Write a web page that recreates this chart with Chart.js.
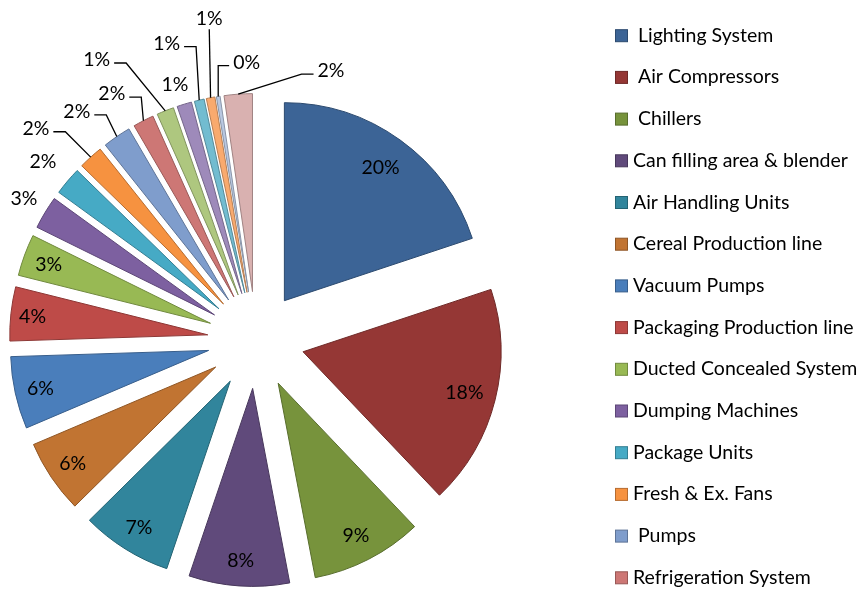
<!DOCTYPE html>
<html><head><meta charset="utf-8">
<script src="https://cdn.jsdelivr.net/npm/chart.js@4"></script>
<style>html,body{margin:0;padding:0;background:#fff;overflow:hidden}canvas{display:block}</style>
</head><body>
<canvas id="c" width="857" height="590"></canvas>
<script>
// ---- data ----
const categories = [" Lighting System", " Air Compressors", " Chillers", "Can filling area & blender",
  "Air Handling Units", "Cereal Production line", "Vacuum Pumps", "Packaging Production line",
  "Ducted Concealed System", "Dumping Machines", "Package Units", "Fresh & Ex. Fans", " Pumps",
  "Refrigeration System", "Item 15", "Item 16", "Item 17", "Item 18", "Item 19", "Item 20"];
const shares = [19.9, 18.0, 9.1, 8.2, 7.4, 6.0, 5.9, 4.4, 3.4, 2.7, 2.3, 2.0, 2.3, 1.7, 1.4, 1.2, 0.8, 0.7, 0.3, 2.3];
const legendShown = 14;

// ---- styles ----
const fillColors = ['#3C6496','#953735','#77933C','#604A7B','#31859C','#C17432','#4A7EBB','#BE4B48','#98B954','#7D60A0',
  '#46AAC5','#F69240','#7F9DCC','#CD7775','#AEC77F','#9E8ABA','#72BCD0','#F9AA6E','#B9C8E1','#D9B1B0'];
const edgeColors = ['#2C4A6F','#6E2927','#586D2D','#47375B','#246373','#8F5625','#385E8B','#8D3836','#718A3F','#5D4777',
  '#347E92','#B66C30','#5E7497','#985856','#81935E','#75668A','#558B9A','#B87E52','#8994A7','#A08383'];
// inside labels: fraction of radius along bisector; outside labels: nudge from outer arc midpoint
const labelInside = [0.83,0.84,0.86,0.87,0.87,0.87,0.87,0.89,0.87,null,null,null,null,null,null,null,null,null,null,null];
const labelNudge = [null,null,null,null,null,null,null,null,null,
  [-21,-14.5],[-24.7,-20.6],[-54.8,-29.4],[-40,-25.6],[-31.6,-27.6],[-68.6,-51.8],[-9.3,-20.1],[-32.6,-57.5],[-1.3,-79.4],[28.4,-34.7],[92.8,-24.1]];
const leaderLine = [false,false,false,false,false,false,false,false,false,false,false,true,true,true,true,false,true,true,true,true];

const EXPLODE = 48.5;
const FONT_FAMILY = 'Lato, "Open Sans", sans-serif';
let FS = 18;

function fitFont(ctx) {
  ctx.save();
  ctx.font = '18px ' + FONT_FAMILY;
  const w = ctx.measureText('Can filling area & blender').width;
  ctx.restore();
  FS = Math.max(15, Math.min(19.5, 18 * 217 / w));
}

const explodePlugin = {
  id: 'explode',
  afterDatasetsUpdate(chart) {
    chart.getDatasetMeta(0).data.forEach(arc => {
      const mid = (arc.startAngle + arc.endAngle) / 2;
      arc.x += Math.cos(mid) * EXPLODE;
      arc.y += Math.sin(mid) * EXPLODE;
    });
  }
};

const labelPlugin = {
  id: 'pctLabels',
  afterDatasetsDraw(chart) {
    const ctx = chart.ctx;
    fitFont(ctx);
    const capH = FS * 0.72;
    const meta = chart.getDatasetMeta(0);
    const total = shares.reduce((a, b) => a + b, 0);
    ctx.save();
    ctx.font = FS + 'px ' + FONT_FAMILY;
    ctx.fillStyle = '#000';
    ctx.strokeStyle = '#000';
    ctx.lineWidth = 1.3;
    ctx.textAlign = 'center';
    ctx.textBaseline = 'alphabetic';
    meta.data.forEach((arc, i) => {
      const mid = (arc.startAngle + arc.endAngle) / 2;
      const ux = Math.cos(mid), uy = Math.sin(mid);
      const r = arc.outerRadius;
      const txt = Math.round(shares[i] / total * 100) + '%';
      let lx, ly;
      if (labelInside[i] != null) {
        lx = arc.x + ux * r * labelInside[i];
        ly = arc.y + uy * r * labelInside[i];
      } else {
        const px = arc.x + ux * r, py = arc.y + uy * r;
        lx = px + labelNudge[i][0];
        ly = py + labelNudge[i][1];
        if (leaderLine[i]) {
          const w = ctx.measureText(txt).width;
          ctx.beginPath();
          if (Math.abs(px - lx) < w / 2) {
            ctx.moveTo(lx, ly + capH / 2 + 4);
            ctx.lineTo(px, py);
          } else {
            const side = px > lx ? 1 : -1;
            const sx = lx + side * (w / 2 + 4), sy = ly + 4;
            const hx = sx + side * Math.min(12, Math.abs(px - sx));
            ctx.moveTo(sx, sy);
            ctx.lineTo(hx, sy);
            ctx.lineTo(px, py);
          }
          ctx.stroke();
        }
      }
      ctx.fillText(txt, lx, ly + capH / 2);
    });
    ctx.restore();
  }
};

const legendPlugin = {
  id: 'sideLegend',
  afterDraw(chart) {
    const ctx = chart.ctx;
    const BOX_X = 615.5, TEXT_X = 633, BASE0 = 41.7, PITCH = 41.7, BOX = 12;
    ctx.save();
    ctx.font = FS + 'px ' + FONT_FAMILY;
    ctx.textAlign = 'left';
    ctx.textBaseline = 'alphabetic';
    ctx.lineWidth = 1;
    for (let i = 0; i < legendShown; i++) {
      const y = BASE0 + i * PITCH;
      ctx.fillStyle = fillColors[i];
      ctx.fillRect(BOX_X, y - BOX, BOX, BOX);
      ctx.strokeStyle = edgeColors[i];
      ctx.strokeRect(BOX_X, y - BOX, BOX, BOX);
      ctx.fillStyle = '#000';
      ctx.fillText(categories[i], TEXT_X, y);
    }
    ctx.restore();
  }
};

new Chart(document.getElementById('c'), {
  type: 'pie',
  data: {
    labels: categories,
    datasets: [{
      data: shares,
      backgroundColor: fillColors,
      borderColor: edgeColors,
      borderWidth: 1,
      radius: 198
    }]
  },
  options: {
    responsive: false,
    devicePixelRatio: 1,
    animation: false,
    layout: { padding: { left: 0, right: 345, top: 90, bottom: 0 } },
    plugins: { legend: { display: false }, tooltip: { enabled: false } },
    events: []
  },
  plugins: [explodePlugin, labelPlugin, legendPlugin]
});
</script>
</body></html>
